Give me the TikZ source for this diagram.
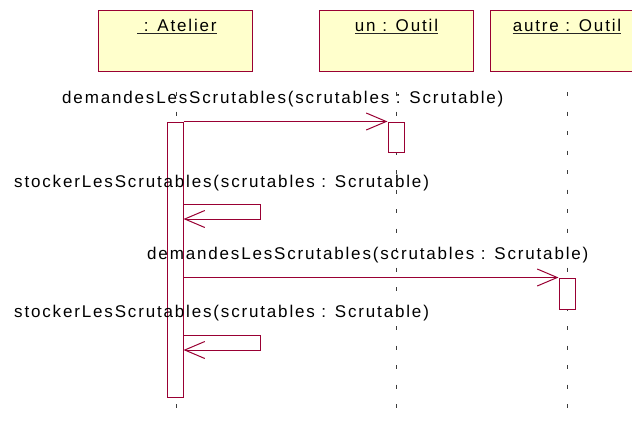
\documentclass[tikz,border=0pt]{standalone}
\usepackage{fontspec}
\setmainfont{Liberation Sans}[LetterSpace=10.8]
\usetikzlibrary{arrows.meta}
\definecolor{umlred}{RGB}{153,0,51}
\definecolor{umlfill}{RGB}{255,255,204}
\definecolor{lifegray}{RGB}{60,60,60}
\begin{document}
\begin{tikzpicture}[x=1pt,y=-1pt,
  font=\fontsize{17pt}{20pt}\selectfont,
  objbox/.style={draw=umlred,fill=umlfill,line width=1pt,minimum width=154pt,minimum height=61pt,inner sep=0pt},
  objlabel/.style={anchor=base,inner sep=0pt,text=black},
  uline/.style={line width=0.9pt,draw=black!85},
  lifeline/.style={draw=lifegray,line width=1pt,dash pattern=on 4pt off 15.5pt},
  actbox/.style={draw=umlred,fill=white,line width=1pt,minimum width=16pt,inner sep=0pt},
  msg/.style={draw=umlred,line width=1pt,-{Straight Barb[length=20pt,width=17pt]}},
  msglbl/.style={anchor=base west,inner sep=0pt,text=black}
]
\useasboundingbox (0,0) rectangle (632,426);
\fill[white] (0,0) rectangle (632,426);

% objects
\node[objbox] (atelier) at (175,40.5) {};
\node[objbox] (un) at (396,40.5) {};
\node[objbox] (autre) at (567,40.5) {};
\node[objlabel] (atelierlbl) at (177,31) {\ : Atelier};
\node[objlabel] (unlbl) at (396.5,31) {un : Outil};
\node[objlabel] (autrelbl) at (567,31) {autre : Outil};
\draw[uline] ([yshift=-2.5pt]atelierlbl.base west) -- ([yshift=-2.5pt]atelierlbl.base east);
\draw[uline] ([yshift=-2.5pt]unlbl.base west) -- ([yshift=-2.5pt]unlbl.base east);
\draw[uline] ([yshift=-2.5pt]autrelbl.base west) -- ([yshift=-2.5pt]autrelbl.base east);

% lifelines
\coordinate (atelierTop) at (176,92);
\coordinate (atelierBot) at (176,409);
\coordinate (unTop) at (396,92);
\coordinate (unBot) at (396,409);
\coordinate (autreTop) at (567,92);
\coordinate (autreBot) at (567,409);
\draw[lifeline] (atelierTop) -- (atelierBot);
\draw[lifeline] (unTop) -- (unBot);
\draw[lifeline] (autreTop) -- (autreBot);

% activations
\node[actbox,minimum height=275pt] (actA) at (175,259.5) {};
\node[actbox,minimum height=30pt] (actU) at (396,137) {};
\node[actbox,minimum height=31pt] (actB) at (567,293.5) {};

% message labels (drawn over the activation bars)
\node[msglbl] (m1) at (62,103) {demandesLesScrutables(scrutables : Scrutable)};
\node[msglbl] (m2) at (14,187) {stockerLesScrutables(scrutables : Scrutable)};
\node[msglbl] (m3) at (147,259) {demandesLesScrutables(scrutables : Scrutable)};
\node[msglbl] (m4) at (14,317) {stockerLesScrutables(scrutables : Scrutable)};

% messages
\draw[msg] (actA.north east) -- (actU.north west);
\coordinate (s1a) at (260,204);
\coordinate (s1b) at (260,219);
\draw[msg] (actA.east |- s1a) -- (s1a) -- (s1b) -- (actA.east |- s1b);
\draw[msg] (actA.east |- actB.north west) -- (actB.north west);
\coordinate (s2a) at (260,335);
\coordinate (s2b) at (260,350);
\draw[msg] (actA.east |- s2a) -- (s2a) -- (s2b) -- (actA.east |- s2b);
\end{tikzpicture}
\end{document}
